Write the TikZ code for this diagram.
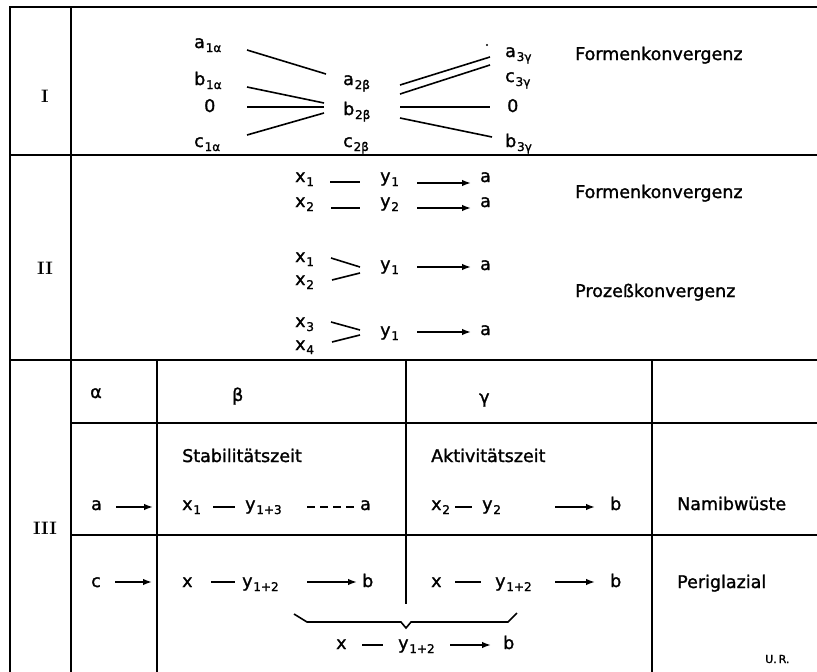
\documentclass[tikz,border=0pt]{standalone}
\usepackage{fontspec}
\newfontfamily\figsans{DejaVu Sans}[FakeBold=1.4]
\usetikzlibrary{arrows.meta}
% lowered index in stencil style
\newcommand\lowidx[1]{\kern0.8pt\raisebox{-4pt}{\fontsize{12}{12}\selectfont #1}}
\begin{document}
\begin{tikzpicture}[x=1pt,y=-1pt,
  rule/.style={line width=1.8pt, line cap=rect},
  link/.style={line width=1.6pt},
  arr/.style={line width=1.5pt, -{Latex[length=9pt,width=6.5pt]}},
  txt/.style={anchor=base west, inner sep=0pt, font=\figsans\fontsize{17.5}{20}\selectfont},
  small/.style={anchor=base west, inner sep=0pt, font=\figsans\fontsize{11}{13}\selectfont},
  roman/.style={anchor=center, inner sep=0pt, font=\bfseries\fontsize{18}{22}\selectfont}]
\useasboundingbox (0,0) rectangle (817,672);

% ---- table rules ----
\draw[rule] (10,672) -- (10,7) -- (817,7);
\draw[rule] (71,7) -- (71,672);
\draw[rule] (10,155) -- (817,155);
\draw[rule] (10,360) -- (817,360);
\draw[rule] (71,423) -- (817,423);
\draw[rule] (71,535) -- (817,535);
\draw[rule] (157,360) -- (157,672);
\draw[rule] (406,360) -- (406,603);
\draw[rule] (652,360) -- (652,672);

% ---- row labels ----
\node[roman] (r1) at (45,96) {I};
\node[roman] (r2) at (45,268) {II};
\node[roman] (r3) at (45,528) {III};

% ---- section I ----
\node[txt] (a1) at (194,48) {a\lowidx{1α}};
\node[txt] (b1) at (194,85) {b\lowidx{1α}};
\node[txt] (z1) at (204,112) {0};
\node[txt] (c1) at (194,147) {c\lowidx{1α}};
\node[txt] (a2) at (343,85) {a\lowidx{2β}};
\node[txt] (b2) at (343,115) {b\lowidx{2β}};
\node[txt] (c2) at (343,147) {c\lowidx{2β}};
\node[txt] (a3) at (505,57) {a\lowidx{3γ}};
\node[txt] (c3) at (505,82) {c\lowidx{3γ}};
\node[txt] (z3) at (507,112) {0};
\node[txt] (b3) at (505,147) {b\lowidx{3γ}};
\node[txt] (fk1) at (575,60) {Formenkonvergenz};
\node[circle, fill, inner sep=0pt, minimum size=2.4pt] (dot) at (487,45) {};

\path (247,50) coordinate (l1a) (326,74) coordinate (l1b)
      (247,87) coordinate (l2a) (324,103) coordinate (l2b)
      (247,107) coordinate (l3a) (324,107) coordinate (l3b)
      (247,135) coordinate (l4a) (324,113) coordinate (l4b)
      (400,85) coordinate (r1a) (490,57) coordinate (r1b)
      (400,94) coordinate (r2a) (490,65) coordinate (r2b)
      (400,107) coordinate (r3a) (490,107) coordinate (r3b)
      (400,118) coordinate (r4a) (492,137) coordinate (r4b);
\foreach \s in {l1,l2,l3,l4,r1,r2,r3,r4}
  \draw[link] (\s a) -- (\s b);

% ---- section II ----
\node[txt] (xa1) at (295,182) {x\lowidx{1}};
\node[txt] (xa2) at (295,207) {x\lowidx{2}};
\node[txt] (ya1) at (380,182) {y\lowidx{1}};
\node[txt] (ya2) at (380,207) {y\lowidx{2}};
\node[txt] (aa1) at (480,182) {a};
\node[txt] (aa2) at (480,207) {a};
\node[txt] (xb1) at (295,262) {x\lowidx{1}};
\node[txt] (xb2) at (295,285) {x\lowidx{2}};
\node[txt] (yb) at (380,270) {y\lowidx{1}};
\node[txt] (ab) at (480,270) {a};
\node[txt] (xc3) at (295,327) {x\lowidx{3}};
\node[txt] (xc4) at (295,350) {x\lowidx{4}};
\node[txt] (yc) at (380,336) {y\lowidx{1}};
\node[txt] (ac) at (480,335) {a};
\node[txt] (fk2) at (575,198) {Formenkonvergenz};
\node[txt] (pk) at (575,297) {Prozeßkonvergenz};

\path (330,182) coordinate (d1a) (360,182) coordinate (d1b)
      (331,208) coordinate (d2a) (360,208) coordinate (d2b)
      (331,258) coordinate (d3a) (360,267) coordinate (d3b)
      (332,280) coordinate (d4a) (360,273) coordinate (d4b)
      (331,322) coordinate (d5a) (360,330) coordinate (d5b)
      (332,342) coordinate (d6a) (360,335) coordinate (d6b);
\foreach \s in {d1,d2,d3,d4,d5,d6}
  \draw[link] (\s a) -- (\s b);

\path (417,183) coordinate (e1a) (471,183) coordinate (e1b)
      (417,208) coordinate (e2a) (471,208) coordinate (e2b)
      (417,267) coordinate (e3a) (471,267) coordinate (e3b)
      (417,332) coordinate (e4a) (471,332) coordinate (e4b);
\foreach \s in {e1,e2,e3,e4}
  \draw[arr] (\s a) -- (\s b);

% ---- section III: header ----
\node[txt] (hal) at (90,398) {α};
\node[txt] (hbe) at (232,401) {β};
\node[txt] (hga) at (479,403) {γ};
\node[txt] (stab) at (182,462) {Stabilitätszeit};
\node[txt] (akt) at (431,462) {Aktivitätszeit};

% ---- section III: Namib row ----
\node[txt] (na) at (91,510) {a};
\node[txt] (nx1) at (182,510) {x\lowidx{1}};
\node[txt] (ny13) at (245,510) {y\lowidx{1+3}};
\node[txt] (nab) at (360,510) {a};
\node[txt] (nx2) at (431,510) {x\lowidx{2}};
\node[txt] (ny2) at (482,510) {y\lowidx{2}};
\node[txt] (nb) at (610,510) {b};
\node[txt] (namib) at (677,510) {Namibwüste};

\path (116,507) coordinate (n1a) (153,507) coordinate (n1b)
      (213,507) coordinate (n2a) (235,507) coordinate (n2b)
      (307,507) coordinate (n3a) (354,507) coordinate (n3b)
      (455,507) coordinate (n4a) (472,507) coordinate (n4b)
      (555,507) coordinate (n5a) (595,507) coordinate (n5b);
\draw[arr] (n1a) -- (n1b);
\draw[link] (n2a) -- (n2b);
\draw[link, dash pattern=on 8pt off 5pt] (n3a) -- (n3b);
\draw[link] (n4a) -- (n4b);
\draw[arr] (n5a) -- (n5b);

% ---- section III: Periglazial row ----
\node[txt] (pc) at (91,587) {c};
\node[txt] (px) at (182,587) {x};
\node[txt] (py) at (242,587) {y\lowidx{1+2}};
\node[txt] (pb) at (362,587) {b};
\node[txt] (qx) at (431,587) {x};
\node[txt] (qy) at (495,587) {y\lowidx{1+2}};
\node[txt] (qb) at (610,587) {b};
\node[txt] (peri) at (677,588) {Periglazial};

\path (115,582) coordinate (p1a) (152,582) coordinate (p1b)
      (211,582) coordinate (p2a) (235,582) coordinate (p2b)
      (307,582) coordinate (p3a) (357,582) coordinate (p3b)
      (455,582) coordinate (p4a) (481,582) coordinate (p4b)
      (555,582) coordinate (p5a) (595,582) coordinate (p5b);
\draw[arr] (p1a) -- (p1b);
\draw[link] (p2a) -- (p2b);
\draw[arr] (p3a) -- (p3b);
\draw[link] (p4a) -- (p4b);
\draw[arr] (p5a) -- (p5b);

% ---- brace and combined result ----
\draw[link, line join=miter] (294,614) -- (307,622) -- (401,622) -- (406,628)
      -- (411,622) -- (508,622) -- (517,613);
\node[txt] (sx) at (336,649) {x};
\node[txt] (sy) at (398,649) {y\lowidx{1+2}};
\node[txt] (sb) at (503,649) {b};
\path (362,645) coordinate (s1a) (383,645) coordinate (s1b)
      (450,645) coordinate (s2a) (491,645) coordinate (s2b);
\draw[link] (s1a) -- (s1b);
\draw[arr] (s2a) -- (s2b);

\node[small] (ur) at (765,663) {U.\kern2pt R.};
\end{tikzpicture}
\end{document}
